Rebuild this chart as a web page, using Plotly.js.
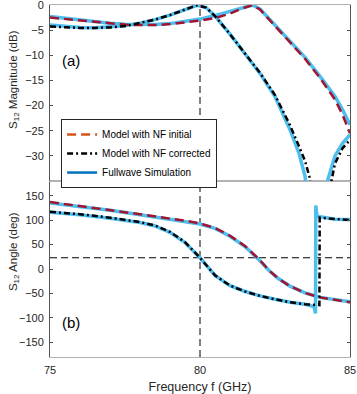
<!DOCTYPE html>
<html>
<head>
<meta charset="utf-8">
<script src="https://cdn.plot.ly/plotly-3.0.1.min.js"></script>
<style>body{margin:0;background:#fff}</style>
</head>
<body>
<div id="plot"></div>
<script>
// S12 magnitude (dB) and angle (deg) vs frequency (GHz)
// blue = fullwave sim, red = model w/ NF initial, black = model w/ NF corrected

var fInit = [75, 75.5, 76, 76.5, 77, 77.5, 78, 78.5, 79, 79.5, 80, 80.5, 81, 81.4, 81.75, 82, 82.5, 83, 83.5, 84, 84.5, 84.75, 85];
var magInit = [-2.5, -2.8, -3.1, -3.4, -3.7, -3.9, -4.0, -4.0, -3.8, -3.5, -3.1, -2.6, -1.7, -0.7, -0.05, -0.9, -4.2, -7.3, -10.7, -14.5, -18.8, -21.8, -25.5];
var magInitSim = [-2.3, -2.65, -3.0, -3.35, -3.65, -3.85, -3.95, -3.9, -3.7, -3.3, -2.8, -2.1, -1.3, -0.5, 0, -0.8, -4.0, -7.1, -10.4, -14.2, -18.2, -20.8, -23.8];

var fCorr = [75, 75.5, 76, 76.5, 77, 77.5, 78, 78.5, 79, 79.5, 79.9, 80.2, 80.5, 81, 81.5, 82, 82.5, 83, 83.3, 83.5, 83.65, 83.78, 84.25, 84.38, 84.5, 84.75, 85];
var magCorr = [-4.3, -4.45, -4.55, -4.55, -4.45, -4.2, -3.6, -2.9, -2.0, -0.9, -0.05, -0.5, -2.2, -5.8, -9.7, -13.5, -17.9, -23.9, -28.1, -31, -34.2, -40, -40, -35, -31.5, -28.5, -26.8];
var fCorrSim = [75, 75.5, 76, 76.5, 77, 77.5, 78, 78.5, 79, 79.5, 79.9, 80.2, 80.5, 81, 81.5, 82, 82.5, 83, 83.3, 83.5, 83.62, 84.12, 84.25, 84.5, 84.75, 85];
var magCorrSim = [-4.0, -4.3, -4.45, -4.5, -4.4, -4.15, -3.6, -2.9, -2.0, -0.9, -0.05, -0.5, -2.2, -5.8, -9.7, -13.6, -18.2, -24.8, -29.5, -34, -40, -40, -35, -30, -27.5, -25.8];

var fAngInit = [75, 76, 77, 78, 79, 79.5, 80, 80.5, 81, 81.5, 82, 82.3, 82.6, 83, 83.5, 84, 84.5, 85];
var angInit = [137, 129, 121, 112, 103, 99, 93, 84, 68, 47, 18, -3, -19, -35, -49, -58, -63, -68];
var angInitSim = [135, 128, 120, 111, 102, 98, 92, 83, 67, 46, 17, -3, -19, -35, -49, -58, -63, -67];

var fAngCorr = [75, 76, 77, 78, 78.5, 79, 79.5, 80, 80.5, 81, 81.5, 82, 82.5, 83, 83.5, 83.98, 83.99, 84.5, 85];
var angCorr = [117, 112, 105, 96, 89, 76, 55, 23, -13, -34, -46, -55, -62, -68, -72, -74, 105, 102, 100];
var fAngCorrSim = [75, 76, 77, 78, 78.5, 79, 79.5, 80, 80.5, 81, 81.5, 82, 82.5, 83, 83.5, 83.8, 83.85, 83.86, 83.9, 84.5, 85];
var angCorrSim = [116, 111, 104, 95, 88, 75, 54, 23, -13, -34, -46, -55, -62, -68, -72, -77, -91, 130, 108, 102, 101];

var magTicks = [0, -5, -10, -15, -20, -25, -30];
var angTicks = [-150, -100, -50, 0, 50, 100, 150];
var freqTicks = [75, 80, 85];

var cSim = '#4DBEEE', cInit = '#A2142F', cCorr = '#000000';
var dashInit = '9px,5px', dashCorr = '6px,3px,2px,3px';

function tr(x, y, color, width, dash, xa, ya) {
  return {type: 'scatter', mode: 'lines', x: x, y: y, xaxis: xa, yaxis: ya, showlegend: false,
    hoverinfo: 'skip', line: {color: color, width: width, dash: dash}};
}

var data = [
  tr(fInit, magInitSim, cSim, 3.5, 'solid', 'x2', 'y2'),
  tr(fCorrSim, magCorrSim, cSim, 3.5, 'solid', 'x2', 'y2'),
  tr(fInit, magInit, cInit, 2.5, dashInit, 'x2', 'y2'),
  tr(fCorr, magCorr, cCorr, 2.5, dashCorr, 'x2', 'y2'),
  tr(fAngInit, angInitSim, cSim, 3.5, 'solid', 'x', 'y'),
  tr(fAngCorrSim, angCorrSim, cSim, 3.5, 'solid', 'x', 'y'),
  tr(fAngInit, angInit, cInit, 2.5, dashInit, 'x', 'y'),
  tr(fAngCorr, angCorr, cCorr, 2.5, dashCorr, 'x', 'y')
];

// legend entries (matlab shows different colours in the legend)
var leg = [['Model with NF initial', '#D95319', dashInit],
           ['Model with NF corrected', '#000000', dashCorr],
           ['Fullwave Simulation', '#0072BD', 'solid']];
leg.forEach(function (l) {
  data.push({type: 'scatter', mode: 'lines', x: [null], y: [null], xaxis: 'x2', yaxis: 'y2',
    name: l[0], showlegend: true, line: {color: l[1], width: 2.5, dash: l[2]}});
});

var fam = 'Liberation Sans, Arial, sans-serif';
var fnt = {family: fam, size: 11, color: '#262626'};
var axBase = {showline: true, linewidth: 1, mirror: 'ticks', ticks: 'inside',
  ticklen: 3, showgrid: false, zeroline: false, tickfont: fnt,
  ticklabelstandoff: 3, ticklabeloverflow: 'allow'};
var xLine = {linecolor: '#b3b3b3', tickcolor: '#777'};
var yLine = {linecolor: '#555', tickcolor: '#555'};

var layout = {
  width: 357, height: 394,
  margin: {l: 50, r: 7, t: 5, b: 37},
  paper_bgcolor: '#fff', plot_bgcolor: '#fff',
  font: fnt,
  showlegend: true,
  legend: {x: 0.037, y: 0.676, xanchor: 'left', yanchor: 'top', bgcolor: '#fff',
    bordercolor: '#262626', borderwidth: 1, font: {family: fam, size: 10, color: '#000'},
    tracegroupgap: 0},
  xaxis: Object.assign({}, axBase, xLine, {range: [75, 85], tickvals: freqTicks, anchor: 'y',
    title: {text: 'Frequency f (GHz)', font: {family: fam, size: 12.5, color: '#262626'}, standoff: 7}}),
  xaxis2: Object.assign({}, axBase, xLine, {range: [75, 85], tickvals: freqTicks, anchor: 'y2',
    matches: 'x', showticklabels: false}),
  yaxis: Object.assign({}, axBase, yLine, {range: [-180, 180], tickvals: angTicks,
    domain: [0, 0.5], anchor: 'x'}),
  yaxis2: Object.assign({}, axBase, yLine, {range: [-35, 0], tickvals: magTicks, domain: [0.5, 1], anchor: 'x2'}),
  shapes: [
    {type: 'line', xref: 'x', yref: 'paper', x0: 80, x1: 80, y0: 0, y1: 1,
      line: {color: '#000', width: 1, dash: '7px,4px'}, layer: 'below'},
    {type: 'line', xref: 'paper', yref: 'y', x0: 0, x1: 1, y0: 23, y1: 23,
      line: {color: '#000', width: 1, dash: '7px,4px'}, layer: 'below'}
  ],
  annotations: [
    {text: '(a)', xref: 'paper', yref: 'paper', x: 0.033, y: 0.841, xanchor: 'left', yanchor: 'middle',
      showarrow: false, font: {family: fam, size: 15, color: '#000'}},
    {text: '(b)', xref: 'paper', yref: 'paper', x: 0.033, y: 0.097, xanchor: 'left', yanchor: 'middle',
      showarrow: false, font: {family: fam, size: 15, color: '#000'}},
    // y titles as annotations so they sit where the reference puts them
    {text: 'S<sub>12</sub> Magnitude (dB)', xref: 'paper', yref: 'paper', x: -0.12, y: 0.787,
      textangle: -90, showarrow: false, xanchor: 'center', yanchor: 'middle', font: {family: fam, size: 11.5, color: '#262626'}},
    {text: 'S<sub>12</sub> Angle (deg)', xref: 'paper', yref: 'paper', x: -0.12, y: 0.298,
      textangle: -90, showarrow: false, xanchor: 'center', yanchor: 'middle', font: {family: fam, size: 11.5, color: '#262626'}}
  ]
};

Plotly.newPlot('plot', data, layout, {displayModeBar: false, staticPlot: true});
</script>
</body>
</html>
